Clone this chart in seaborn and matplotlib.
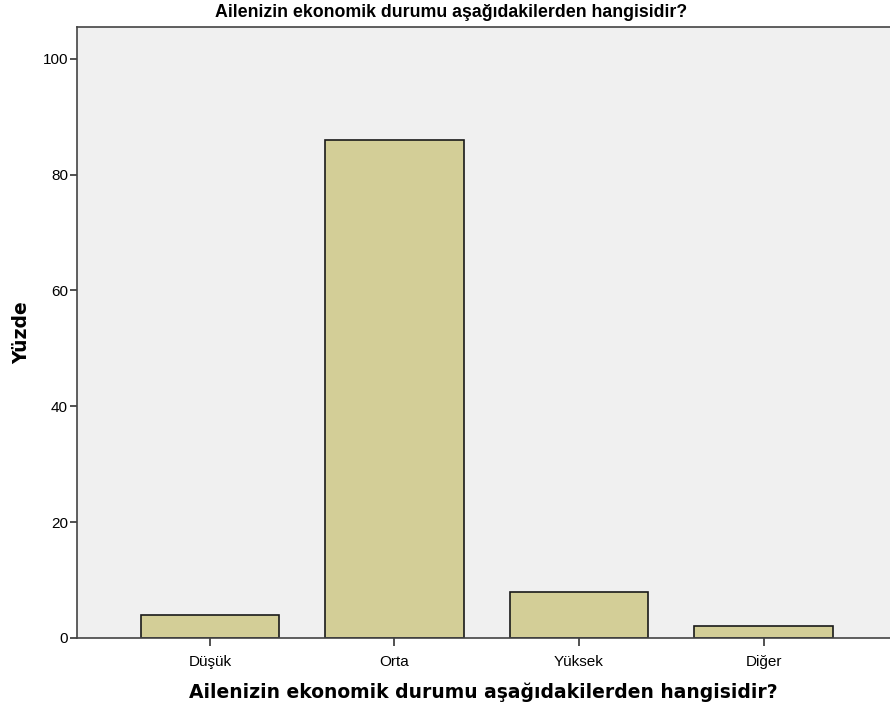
import pandas as pd
import seaborn as sns
import matplotlib.pyplot as plt

# economic status of the family, percent
categories = ['Düşük', 'Orta', 'Yüksek', 'Diğer']
percent = [4, 86, 8, 2]
yticks = [0, 20, 40, 60, 80, 100]

df = pd.DataFrame({'Durum': categories, 'Yuzde': percent})

sns.set_style('white')
plt.rcParams['font.family'] = ['Liberation Sans', 'DejaVu Sans']
plt.rcParams['text.color'] = 'black'
plt.rcParams['axes.labelcolor'] = 'black'

fig = plt.figure(figsize=(8.9, 7.13), dpi=100)
ax = fig.add_axes([0.0865, 0.1052, 0.9135, 0.857])
ax.set_facecolor('#F0F0F0')

sns.barplot(x='Durum', y='Yuzde', data=df, color='#D3CE97', saturation=1,
            edgecolor='#1a1a1a', linewidth=1.2, width=0.75, ax=ax)

ax.set_xlim(-0.72, 3.685)
ax.set_ylim(0, 105.5)
ax.set_yticks(yticks)
ax.tick_params(axis='both', direction='out', length=5, width=1.2, color='#333333',
               labelsize=11, labelcolor='black', left=True, bottom=True)
ax.tick_params(axis='x', length=6, pad=6)
ax.tick_params(axis='y', pad=1.5)

for side in ['left', 'top', 'bottom']:
    ax.spines[side].set_color('#444444')
    ax.spines[side].set_linewidth(1.2)
ax.spines['right'].set_visible(False)

ax.set_xlabel('Ailenizin ekonomik durumu aşağıdakilerden hangisidir?',
              fontsize=13.5, fontweight='bold', family='DejaVu Sans', labelpad=10)
ax.set_ylabel('Yüzde', fontsize=13.5, fontweight='bold', family='DejaVu Sans', labelpad=8)
fig.text(0.507, 0.983, 'Ailenizin ekonomik durumu aşağıdakilerden hangisidir?',
         ha='center', va='center', fontsize=12.8, fontweight='bold',
         family='Liberation Sans')

fig.savefig('out.png', dpi=100)
